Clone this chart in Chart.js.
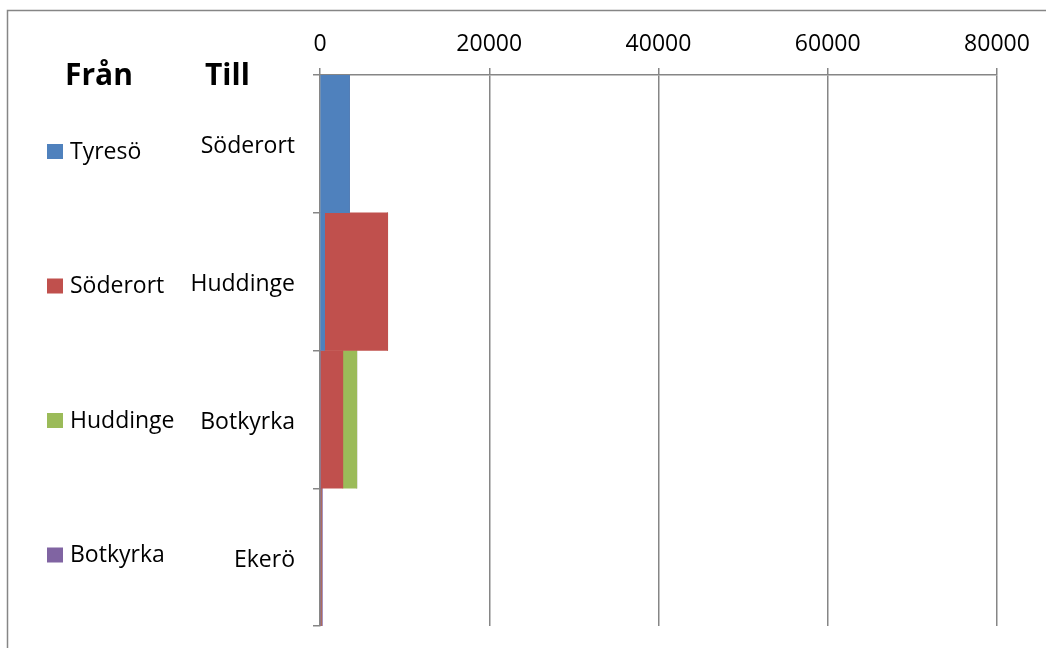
<!DOCTYPE html>
<html>
<head>
<meta charset="utf-8">
<script src="https://cdn.jsdelivr.net/npm/chart.js@4.4.0/dist/chart.umd.min.js"></script>
<style>
body{margin:0;background:#fff}
</style>
</head>
<body>
<canvas id="myChart" width="1046" height="648"></canvas>
<script>
// Till (kategorier) och Från (serier)
var till = ["Söderort", "Huddinge", "Botkyrka", "Ekerö"];
var fran = ["Tyresö", "Söderort", "Huddinge", "Botkyrka"];
var tyreso = [3500, 550, 0, 0];
var soderort = [0, 7450, 2700, 150];
var huddinge = [0, 0, 1650, 0];
var botkyrka = [0, 0, 0, 130];
var xticks = [0, 20000, 40000, 60000, 80000];
var farger = ["#4F81BD", "#C0504D", "#9BBB59", "#8064A2"];

var grå = "#868686";
var typsnitt = "'Open Sans'";

// rubriker, förklaring och ram ritas för hand
var extra = {
	id: 'extra',
	afterDraw: function(chart){
		var c = chart.ctx, a = chart.chartArea;
		c.save();
		c.strokeStyle = grå;
		c.lineWidth = 1.5;
		c.beginPath();
		c.moveTo(7.5, 648); c.lineTo(7.5, 10.5); c.lineTo(1046, 10.5);
		c.stroke();

		c.fillStyle = "#000";
		c.textBaseline = "alphabetic";
		c.font = "bold 30px " + typsnitt;
		c.fillText("Från", 65, 85);
		c.fillText("Till", 205, 85);

		c.font = "23px " + typsnitt;
		for(var i=0; i<fran.length; i++){
			var y = a.top + 76.5 + i*134.5;
			c.fillStyle = farger[i];
			c.fillRect(47, y-7.5, 16, 15);
			c.fillStyle = "#000";
			c.fillText(fran[i], 70, y+7);
		}
		c.restore();
	}
};

var serier = [tyreso, soderort, huddinge, botkyrka];
var ds = [];
for(var i=0; i<serier.length; i++){
	ds.push({
		label: fran[i],
		data: serier[i],
		backgroundColor: farger[i],
		borderWidth: 0,
		barPercentage: 1,
		categoryPercentage: 1
	});
}

var ctx = document.getElementById("myChart").getContext('2d');
var chart = new Chart(ctx, {
	type: 'bar',
	data: { labels: till, datasets: ds },
	options: {
		indexAxis: 'y',
		responsive: false,
		animation: false,
		layout: { padding: { left: 0, top: 0, right: 49, bottom: 22 } },
		plugins: { legend: { display: false }, tooltip: { enabled: false } },
		scales: {
			x: {
				position: 'top',
				stacked: true,
				min: 0,
				max: 80000,
				afterBuildTicks: function(s){ s.ticks = xticks.map(function(v){ return {value: v}; }); },
				afterFit: function(s){ s.height = 75; },
				ticks: {
					color: "#000",
					font: { family: typsnitt, size: 23 },
					padding: 10,
					maxRotation: 0,
					callback: function(v){ return String(v); }
				},
				grid: { color: grå, lineWidth: 1.5, tickLength: 7 },
				border: { color: grå, width: 1.5 }
			},
			y: {
				stacked: true,
				afterFit: function(s){ s.width = 320; s.paddingTop = 0; s.paddingBottom = 0; },
				ticks: {
					color: "#000",
					font: { family: typsnitt, size: 23 },
					padding: 18,
					labelOffset: 3
				},
				grid: { drawOnChartArea: false, offset: true, color: grå, lineWidth: 1.5, tickLength: 7 },
				border: { color: grå, width: 1.5 }
			}
		}
	},
	plugins: [extra]
});
</script>
</body>
</html>
